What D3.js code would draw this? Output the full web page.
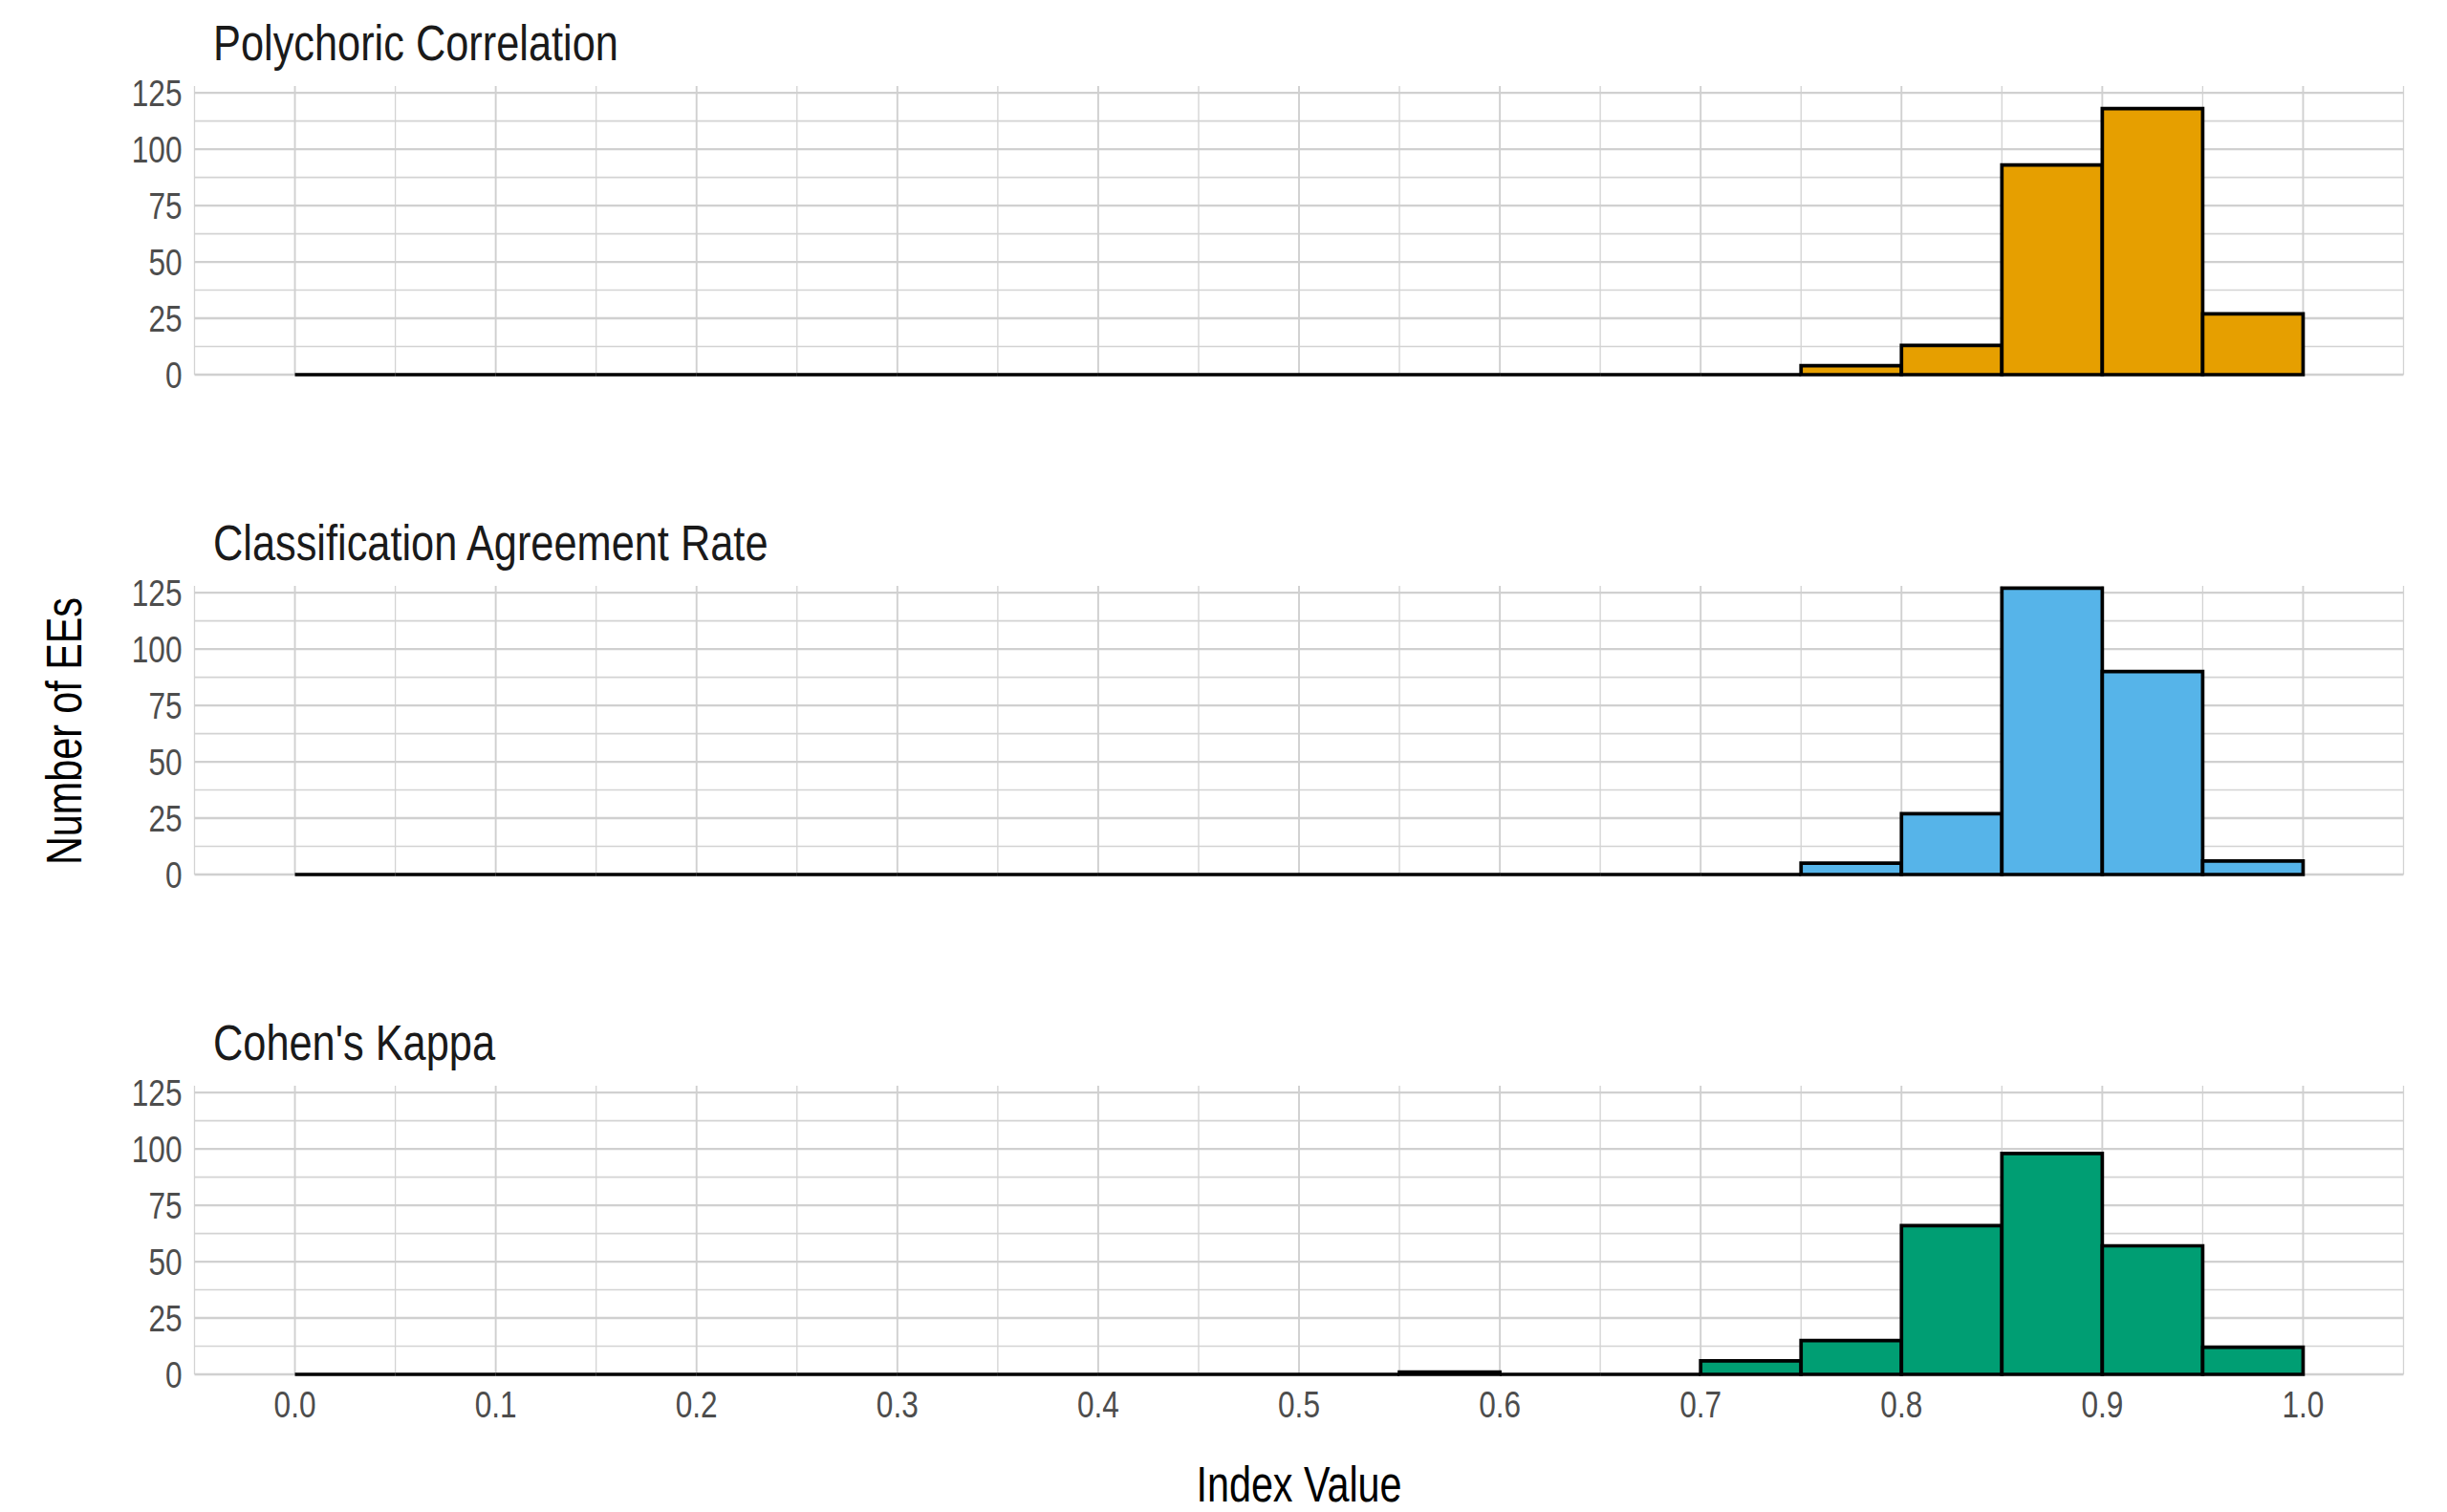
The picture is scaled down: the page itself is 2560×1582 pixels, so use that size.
<!DOCTYPE html>
<html>
<head>
<meta charset="utf-8">
<script src="https://cdn.jsdelivr.net/npm/d3@7"></script>
<style>
  html, body { margin: 0; padding: 0; background: #ffffff; }
  svg { display: block; }
</style>
</head>
<body>
<svg id="chart" width="2560" height="1582"></svg>
<script>
// ---------------- data ----------------
const binStarts = [0.00,0.05,0.10,0.15,0.20,0.25,0.30,0.35,0.40,0.45,0.50,0.55,0.60,0.65,0.70,0.75,0.80,0.85,0.90,0.95];
const binWidth = 0.05;
const panelTitles = ["Polychoric Correlation", "Classification Agreement Rate", "Cohen's Kappa"];
const polychoricCounts     = [0,0,0,0,0,0,0,0,0,0,0,0,0,0,0,4,13,93,118,27];
const classificationCounts = [0,0,0,0,0,0,0,0,0,0,0,0,0,0,0,5,27,127,90,6];
const kappaCounts          = [0,0,0,0,0,0,0,0,0,0,0,1,0,0,6,15,66,98,57,12];
const panelFills = ["#E69F00", "#56B4E9", "#009E73"];
const xTicks = [0.0,0.1,0.2,0.3,0.4,0.5,0.6,0.7,0.8,0.9,1.0];
const xMinor = [-0.05,0.05,0.15,0.25,0.35,0.45,0.55,0.65,0.75,0.85,0.95,1.05];
const yTicks = [0,25,50,75,100,125];
const yMinor = [12.5,37.5,62.5,87.5,112.5];
const xLabel = "Index Value";
const yLabel = "Number of EEs";

const seriesCounts = [polychoricCounts, classificationCounts, kappaCounts];

// ---------------- layout ----------------
const svg = d3.select("#chart");
const font = "'Liberation Sans Narrow', 'Arial Narrow', 'Liberation Sans', Arial, sans-serif";
const narrowScale = 0.81;   // condensed look of the original typeface
const titleScale = 0.85;
const left = 203.5, right = 2514.5;
const panelTops = [90, 613, 1136];
const panelH = 302;

const x = d3.scaleLinear().domain([-0.05, 1.05]).range([left, right]);

function narrowText(parent, px, py, sx, rot) {
  return parent.append("text")
    .attr("transform", `translate(${px},${py})` + (rot ? ` rotate(${rot})` : "") + ` scale(${sx},1)`)
    .attr("font-family", font);
}

panelTops.forEach((top, i) => {
  const y = d3.scaleLinear().domain([0, 128]).range([top + panelH, top]);
  const g = svg.append("g");

  // minor grid
  g.selectAll(".vminor").data(xMinor).enter().append("line")
    .attr("x1", d => x(d)).attr("x2", d => x(d))
    .attr("y1", top).attr("y2", top + panelH)
    .attr("stroke", "#d3d3d3").attr("stroke-width", 1.3);
  g.selectAll(".hminor").data(yMinor).enter().append("line")
    .attr("x1", left).attr("x2", right)
    .attr("y1", d => y(d)).attr("y2", d => y(d))
    .attr("stroke", "#d3d3d3").attr("stroke-width", 1.7);
  // major grid
  g.selectAll(".vmajor").data(xTicks).enter().append("line")
    .attr("x1", d => x(d)).attr("x2", d => x(d))
    .attr("y1", top).attr("y2", top + panelH)
    .attr("stroke", "#d0d0d0").attr("stroke-width", 1.9);
  g.selectAll(".hmajor").data(yTicks).enter().append("line")
    .attr("x1", left).attr("x2", right)
    .attr("y1", d => y(d)).attr("y2", d => y(d))
    .attr("stroke", "#d0d0d0").attr("stroke-width", 2.3);

  // bars (paths so zero-height bins still draw a line)
  const counts = seriesCounts[i];
  g.selectAll(".bar").data(binStarts.map((b, j) => ({x0: b, x1: b + binWidth, n: counts[j]})))
    .enter().append("path")
    .attr("d", d => {
      const x0 = x(d.x0), x1 = x(d.x1), y0 = y(0), y1 = y(d.n);
      return `M${x0},${y0}L${x0},${y1}L${x1},${y1}L${x1},${y0}Z`;
    })
    .attr("fill", panelFills[i])
    .attr("stroke", "#000000")
    .attr("stroke-width", 3.7)
    .attr("stroke-linejoin", "miter");

  // y tick labels
  yTicks.forEach(t => {
    narrowText(g, left - 13, y(t), narrowScale)
      .attr("dy", "0.36em")
      .attr("text-anchor", "end")
      .attr("font-size", 39)
      .attr("fill", "#4d4d4d")
      .text(t);
  });

  // panel title
  narrowText(g, 223, top - 27, titleScale)
    .attr("font-size", 51)
    .attr("fill", "#1a1a1a")
    .text(panelTitles[i]);

  // x axis labels only on bottom panel
  if (i === panelTops.length - 1) {
    xTicks.forEach(t => {
      narrowText(g, x(t), top + panelH + 45, narrowScale)
        .attr("text-anchor", "middle")
        .attr("font-size", 39)
        .attr("fill", "#4d4d4d")
        .text(d3.format(".1f")(t));
    });
  }
});

// axis titles
narrowText(svg, (left + right) / 2, 1571, narrowScale)
  .attr("text-anchor", "middle")
  .attr("font-size", 51)
  .attr("fill", "#000000")
  .text(xLabel);

narrowText(svg, 85, 765, narrowScale, -90)
  .attr("text-anchor", "middle")
  .attr("font-size", 51)
  .attr("fill", "#000000")
  .text(yLabel);
</script>
</body>
</html>
